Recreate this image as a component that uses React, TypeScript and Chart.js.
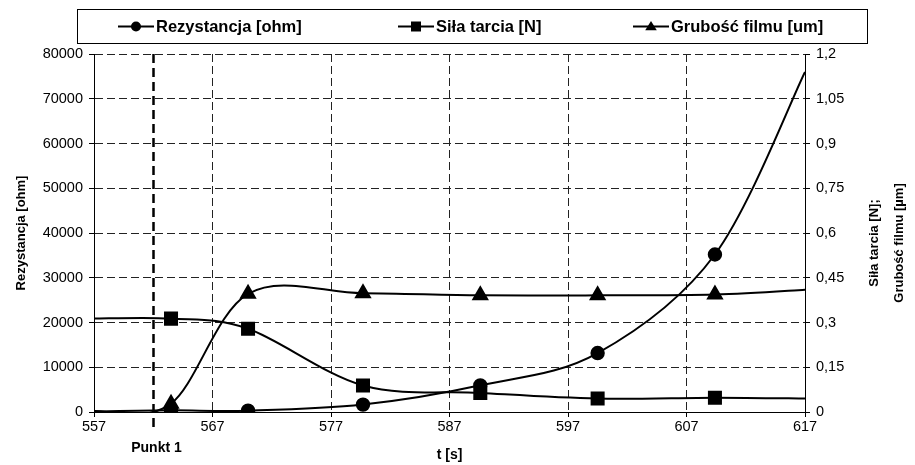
import React, { useEffect, useRef } from "react";
import { Chart, registerables } from "chart.js";

Chart.register(...registerables);

// ---- data ----
const timeTicks = [557, 567, 577, 587, 597, 607, 617];
const resistanceTicks = [0, 10000, 20000, 30000, 40000, 50000, 60000, 70000, 80000];
const rightTicks = [0, 0.15, 0.3, 0.45, 0.6, 0.75, 0.9, 1.05, 1.2];

// curve sample times: first and last are curve ends (no marker)
const curveTimes = [557, 563.5, 570, 579.7, 589.6, 599.5, 609.4, 617];
const resistanceOhm = [100, 380, 300, 1650, 5960, 13170, 35200, 76000];
const frictionN = [0.313, 0.313, 0.279, 0.089, 0.064, 0.045, 0.048, 0.045];
const filmUm = [0.003, 0.028, 0.396, 0.398, 0.391, 0.391, 0.394, 0.41];
const markerShown = [false, true, true, true, true, true, true, false];

const seriesLabels = ["Rezystancja [ohm]", "Siła tarcia [N]", "Grubość filmu [um]"];
const punkt1Time = 562;
const punkt1Label = "Punkt 1";
const xTitle = "t [s]";
const leftTitle = "Rezystancja [ohm]";
const rightTitleLines = ["Siła tarcia [N];", "Grubość filmu [µm]"];

const FONT = '"Liberation Sans", Arial, Helvetica, sans-serif';

function pts(ys: number[]) {
  return curveTimes.map((t, i) => ({ x: t, y: ys[i] }));
}

function drawMarker(ctx: CanvasRenderingContext2D, style: string, x: number, y: number, s: number) {
  ctx.beginPath();
  if (style === "circle") {
    ctx.arc(x, y, s, 0, Math.PI * 2);
  } else if (style === "rect") {
    ctx.rect(x - s, y - s, 2 * s, 2 * s);
  } else {
    const h = s * 1.7;
    ctx.moveTo(x, y - h * 0.6);
    ctx.lineTo(x + s * 1.05, y + h * 0.4);
    ctx.lineTo(x - s * 1.05, y + h * 0.4);
    ctx.closePath();
  }
  ctx.fill();
}

// Spreadsheet-style smoothing: uniform Catmull-Rom control points computed
// from the points Chart.js already placed through its scales.
const smoothPlugin = {
  id: "spreadsheetSmooth",
  beforeDatasetDraw(chart: any, args: any) {
    const meta = args.meta;
    const line = meta.dataset;
    if (!line || !line.updateControlPoints) return;
    line.updateControlPoints(chart.chartArea, "x");
    const p = meta.data;
    const n = p.length;
    for (let i = 0; i < n; i++) {
      const prev = p[Math.max(0, i - 1)];
      const next = p[Math.min(n - 1, i + 1)];
      const dx = (next.x - prev.x) / 6;
      const dy = (next.y - prev.y) / 6;
      p[i].cp1x = p[i].x - dx;
      p[i].cp1y = p[i].y - dy;
      p[i].cp2x = p[i].x + dx;
      p[i].cp2y = p[i].y + dy;
    }
    line._path = undefined;
  },
};

const extrasPlugin = {
  id: "extras",
  afterDatasetsDraw(chart: any) {
    const { ctx, chartArea, scales } = chart;
    const xs = scales.x;
    ctx.save();
    // Punkt 1 dashed line
    const px = Math.round(xs.getPixelForValue(punkt1Time)) + 0.5;
    ctx.strokeStyle = "#000";
    ctx.lineWidth = 2.5;
    ctx.setLineDash([9, 5]);
    ctx.beginPath();
    ctx.moveTo(px, chartArea.top);
    ctx.lineTo(px, chartArea.bottom + 17);
    ctx.stroke();
    ctx.setLineDash([]);
    ctx.fillStyle = "#000";
    ctx.font = `bold 14px ${FONT}`;
    ctx.textAlign = "center";
    ctx.textBaseline = "middle";
    ctx.fillText(punkt1Label, px + 3, 448);

    // right title (reads bottom to top)
    ctx.font = `bold 13px ${FONT}`;
    const cy = 243;
    [874, 899].forEach((x, i) => {
      ctx.save();
      ctx.translate(x, cy);
      ctx.rotate(-Math.PI / 2);
      ctx.fillText(rightTitleLines[i], 0, 0);
      ctx.restore();
    });

    // legend
    ctx.lineWidth = 1;
    ctx.strokeStyle = "#000";
    ctx.strokeRect(77.5, 9.5, 790, 34);
    const ly = 26.5;
    const styles = ["circle", "rect", "triangle"];
    const sizes = [5, 5, 5.5];
    const starts = [118, 398, 633];
    ctx.font = `bold 16.5px ${FONT}`;
    ctx.textAlign = "left";
    chart.data.datasets.forEach((ds: any, i: number) => {
      const x0 = starts[i];
      ctx.lineWidth = 2;
      ctx.beginPath();
      ctx.moveTo(x0, ly);
      ctx.lineTo(x0 + 36, ly);
      ctx.stroke();
      drawMarker(ctx, styles[i], x0 + 18, ly, sizes[i]);
      ctx.fillText(ds.label, x0 + 38, ly + 1);
    });
    ctx.restore();
  },
};

const gridCommon = {
  color: "#222",
  lineWidth: 1,
  tickLength: 5,
  tickColor: "#000",
  tickBorderDash: [] as number[],
};

const TENSION = 0.33;

export default function App() {
  const ref = useRef<HTMLCanvasElement>(null);
  useEffect(() => {
    if (!ref.current) return;
    const radii = (r: number) => markerShown.map((m) => (m ? r : 0));
    const chart = new Chart(ref.current, {
      type: "line",
      data: {
        datasets: [
          {
            label: seriesLabels[0],
            data: pts(resistanceOhm),
            yAxisID: "y",
            borderColor: "#000",
            backgroundColor: "#000",
            borderWidth: 2,
            pointStyle: "circle",
            pointRadius: radii(6.2),
            pointBackgroundColor: "#000",
            pointBorderColor: "#000",
            tension: TENSION,
          },
          {
            label: seriesLabels[1],
            data: pts(frictionN),
            yAxisID: "y1",
            borderColor: "#000",
            backgroundColor: "#000",
            borderWidth: 2,
            pointStyle: "rect",
            pointRadius: radii(8.5),
            pointBackgroundColor: "#000",
            pointBorderColor: "#000",
            tension: TENSION,
          },
          {
            label: seriesLabels[2],
            data: pts(filmUm),
            yAxisID: "y1",
            borderColor: "#000",
            backgroundColor: "#000",
            borderWidth: 2,
            pointStyle: "triangle",
            pointRadius: radii(8),
            pointBackgroundColor: "#000",
            pointBorderColor: "#000",
            tension: TENSION,
          },
        ],
      },
      options: {
        animation: false,
        responsive: false,
        maintainAspectRatio: false,
        layout: { padding: { top: 54, left: 0, right: 0, bottom: 0 } },
        plugins: { legend: { display: false }, tooltip: { enabled: false } },
        elements: { line: { capBezierPoints: false } },
        scales: {
          x: {
            type: "linear",
            min: 557,
            max: 617,
            afterBuildTicks: (s: any) => {
              s.ticks = timeTicks.map((v) => ({ value: v }));
            },
            afterFit: (s: any) => {
              s.height = 53;
            },
            ticks: { color: "#000", font: { family: FONT, size: 14.5 }, padding: 1, maxRotation: 0 },
            grid: gridCommon,
            border: { color: "#000", width: 1, dash: [8, 4] },
            title: {
              display: true,
              text: xTitle,
              color: "#000",
              font: { family: FONT, size: 14, weight: "bold" },
              padding: { top: 0, bottom: 1 },
            },
          },
          y: {
            type: "linear",
            position: "left",
            min: 0,
            max: 80000,
            afterBuildTicks: (s: any) => {
              s.ticks = resistanceTicks.map((v) => ({ value: v }));
            },
            afterFit: (s: any) => {
              s.width = 94;
            },
            ticks: { color: "#000", font: { family: FONT, size: 14.5 }, padding: 6, callback: (v: any) => String(v) },
            grid: gridCommon,
            border: { color: "#000", width: 1, dash: [8, 4] },
            title: {
              display: true,
              text: leftTitle,
              color: "#000",
              font: { family: FONT, size: 13, weight: "bold" },
              padding: { top: 14, bottom: 0 },
            },
          },
          y1: {
            type: "linear",
            position: "right",
            min: 0,
            max: 1.2,
            afterBuildTicks: (s: any) => {
              s.ticks = rightTicks.map((v) => ({ value: v }));
            },
            afterFit: (s: any) => {
              s.width = 110;
            },
            ticks: {
              color: "#000",
              font: { family: FONT, size: 14.5 },
              padding: 6,
              callback: (v: any) => String(Math.round(Number(v) * 100) / 100).replace(".", ","),
            },
            grid: { ...gridCommon, drawOnChartArea: false },
            border: { color: "#000", width: 1 },
          },
        },
      },
      plugins: [smoothPlugin, extrasPlugin],
    } as any);
    return () => chart.destroy();
  }, []);

  return (
    <div style={{ position: "fixed", left: 0, top: 0, width: 915, height: 465, background: "#fff" }}>
      <canvas ref={ref} width={915} height={465} style={{ width: 915, height: 465, display: "block" }} />
    </div>
  );
}
